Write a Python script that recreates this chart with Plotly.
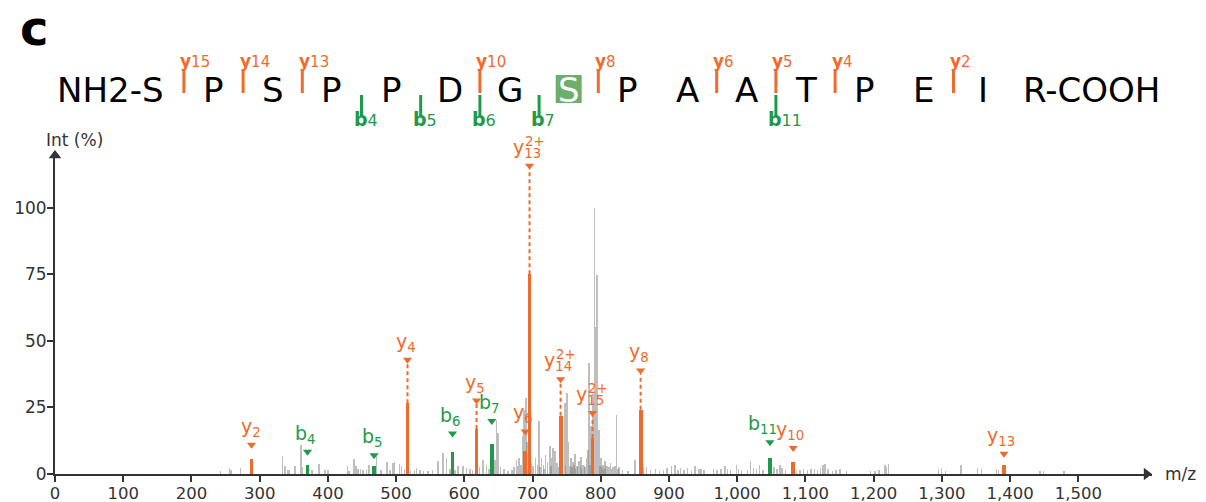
import plotly.graph_objects as go

# ---------------- data ----------------
residues = ["S", "P", "S", "P", "P", "D", "G", "S", "P", "A", "A", "T", "P", "E", "I", "R"]
phospho_site = 8
y_ions_seq = [15, 14, 13, 10, 8, 6, 5, 4, 2]
b_ions_seq = [4, 5, 6, 7, 11]

ion_type = ["y", "b", "b", "y", "b", "y", "b", "y", "y", "y", "y", "y", "b", "y", "y"]
ion_num = [2, 4, 5, 4, 6, 5, 7, 6, 13, 14, 15, 8, 11, 10, 13]
ion_charge = [1, 1, 1, 1, 1, 1, 1, 1, 2, 2, 2, 1, 1, 1, 1]
ion_mz = [288.0, 370.1, 467.7, 516.7, 582.7, 617.9, 640.3, 689.2, 695.6, 741.1, 788.0, 858.4, 1048.0, 1082.1, 1391.0]
ion_int = [5.7, 3.5, 3.0, 26.6, 8.2, 16.9, 11.4, 8.8, 75.1, 21.9, 13.5, 24.1, 6.1, 4.6, 3.5]

gray_mz = [242.5, 256, 258, 271.8, 333.4, 336.8, 341.7, 344, 351.5, 360.3, 363, 376.9, 387, 395.4, 400.3,
           428.7, 431, 438.4, 441, 444.3, 447.8, 451.7, 456.6, 460, 471.2, 478, 486.8, 490.8, 495.6, 498,
           505, 508, 512, 521, 527, 530, 535, 540, 547, 553, 561.6, 568.9, 573.8, 579, 586, 590.9, 598.2,
           603, 608, 612, 622, 627.6, 632.6, 636, 644.7, 647.2, 649.6, 653, 658, 664, 670, 673, 676.5, 678,
           680.4, 683, 685.3, 687.7, 690.2, 692, 694, 696, 698.5, 701, 704, 707, 709.7, 711, 713.2, 716, 717,
           719, 722, 725.4, 727, 728, 730.3, 733, 736, 738, 741, 744, 747.4, 748, 750.7, 753, 755, 756, 758,
           759, 761, 762, 763, 765, 766, 768, 770, 771, 772, 774, 776, 777, 779.2, 781, 783, 784, 786, 788.9,
           790.5, 792.5, 794.8, 797.7, 799, 800, 802, 803, 805, 806, 808, 810, 812, 814, 816, 818, 821,
           823.2, 825, 827, 832, 840, 850, 862, 867, 873, 880, 886, 892, 897, 903.8, 908.7, 913, 917, 922,
           927, 933, 938, 944, 947, 951, 965, 970, 976, 982, 986, 990, 999, 1002, 1006, 1015, 1019.6, 1024,
           1028, 1033, 1038, 1054, 1058, 1062.8, 1066, 1071, 1087, 1092, 1097, 1103, 1108, 1113, 1118, 1122,
           1125.7, 1128.6, 1133, 1140, 1145, 1151, 1160, 1195, 1202, 1208, 1216.5, 1219, 1221.4, 1294.7,
           1299.7, 1305, 1328, 1352, 1358.4, 1380, 1383, 1444, 1449, 1479]
gray_int = [1.2, 2.2, 1.5, 2.2, 6.9, 2.9, 1.6, 1.4, 3.1, 11.0, 2.5, 1.6, 3.9, 1.6, 1.6,
            2.9, 1.2, 5.7, 2.9, 1.9, 1.9, 1.6, 1.6, 3.5, 7.2, 1.5, 4.4, 1.6, 4.1, 4.4,
            3.8, 2.9, 1.8, 1.2, 1.5, 2.3, 1.6, 1.3, 1.1, 1.4, 4.8, 7.9, 6.0, 2.0, 1.5, 2.9, 2.9,
            2.2, 1.9, 1.4, 2.5, 5.4, 3.5, 1.8, 5.4, 20.4, 15.4, 2.5, 1.8, 1.1, 1.5, 2.5, 5.4, 3.0,
            6.0, 3.5, 14.1, 24.1, 28.5, 12.0, 3.5, 2.5, 4.1, 2.9, 6.0, 3.5, 20.1, 2.5, 6.0, 3.2, 2.0,
            7.0, 4.5, 10.4, 3.0, 6.0, 9.8, 8.5, 4.0, 2.5, 3.0, 16.6, 26.6, 3.5, 30.4, 12.0, 3.0, 6.0, 2.5,
            4.5, 3.5, 7.5, 2.0, 3.0, 2.5, 5.0, 3.0, 6.5, 2.0, 3.2, 3.0, 2.5, 6.0, 9.0, 41.6, 3.5, 18.0, 30.0,
            100.0, 55.4, 74.8, 16.6, 3.0, 6.0, 2.5, 3.5, 2.0, 5.0, 3.0, 3.0, 2.5, 4.0, 2.0, 2.5, 3.0,
            22.3, 2.0, 2.5, 1.5, 1.2, 5.4, 2.8, 2.5, 1.4, 1.8, 1.2, 1.6, 2.1, 3.0, 3.5, 1.6, 2.2, 1.5,
            2.4, 1.3, 3.0, 1.8, 2.0, 1.5, 2.0, 1.4, 1.7, 3.0, 2.0, 1.4, 3.5, 2.0, 1.6, 1.4, 4.8, 2.4,
            2.0, 3.2, 1.5, 2.5, 1.8, 3.5, 2.2, 1.5, 1.2, 1.5, 1.8, 1.4, 1.8, 2.0, 1.5, 2.2,
            3.5, 3.7, 2.0, 1.3, 1.4, 1.8, 1.0, 1.0, 1.2, 1.4, 3.5, 2.5, 3.8, 2.0,
            2.4, 1.2, 3.2, 2.4, 2.0, 1.9, 1.5, 1.3, 1.0, 1.1]

x_ticks = list(range(0, 1501, 100))
y_ticks = [0, 25, 50, 75, 100]

# label heights for the annotation triangles (layout)
label_level = [11, 8.4, 7, 42.9, 15.2, 27.6, 19.9, 16, 115.8, 35.6, 22.9, 38.9, 11.9, 9.8, 7.6]
label_xshift = [0, -2, -2, -2, -2, -2, -2, -2, -3, -3, -3, -2, -7, -3, -3]

# ---------------- style ----------------
ORANGE = "#EF6B2B"
GREEN = "#1F9A48"
BOX_GREEN = "#6DAE6B"
AXIS = "#333333"
FONT = "DejaVu Sans"
OFF = 8  # page body margin: the figure starts 8 px right/down in the window
W_FIG, H_FIG = 1206 - OFF, 502 - OFF
ML, MR, MT, MB = 47, 54, 144, 28
PW = W_FIG - ML - MR
PH = H_FIG - MT - MB
X_MAX = 1608
Y_MAX = 121


def px_x(px):  # window pixel -> paper
    return (px - OFF - ML) / PW


def px_y(py):
    return (H_FIG - MB - (py - OFF)) / PH


fig = go.Figure()

# gray background peaks
fig.add_trace(go.Bar(x=gray_mz, y=gray_int, width=[2.2] * len(gray_mz),
                     marker=dict(color="rgba(125,125,125,0.5)", line=dict(width=0)),
                     hoverinfo="skip", showlegend=False))

colors = [ORANGE if t == "y" else GREEN for t in ion_type]
fig.add_trace(go.Bar(x=ion_mz, y=ion_int, width=[5.6] * len(ion_mz),
                     marker=dict(color=colors, line=dict(width=0)),
                     hoverinfo="skip", showlegend=False))

annotations = []
# leaders, triangles, labels
for i in range(len(ion_mz)):
    c = colors[i]
    lev = label_level[i]
    if lev - ion_int[i] > 9:
        fig.add_trace(go.Scatter(x=[ion_mz[i], ion_mz[i]], y=[ion_int[i], lev - 1.2], mode="lines",
                                 line=dict(color=c, width=2, dash="4px,3px"),
                                 hoverinfo="skip", showlegend=False))
    annotations.append(dict(x=ion_mz[i], y=lev, xref="x", yref="y", showarrow=False,
                            text=f"{ion_type[i]}<sub>{ion_num[i]}</sub>",
                            xanchor="center", yanchor="bottom", yshift=3, xshift=label_xshift[i],
                            font=dict(family=FONT, size=19, color=c)))
    if ion_charge[i] > 1:
        nd = len(str(ion_num[i]))
        width = 0.592 * 19 + nd * 0.636 * 13.3
        sub_start = -width / 2 + 0.592 * 19 + label_xshift[i]
        annotations.append(dict(x=ion_mz[i], y=lev, xref="x", yref="y", showarrow=False,
                                text=f"{ion_charge[i]}+", xanchor="left", yanchor="bottom",
                                xshift=sub_start - 1, yshift=15,
                                font=dict(family=FONT, size=13.3, color=c)))

fig.add_trace(go.Scatter(x=ion_mz, y=label_level, mode="markers",
                         marker=dict(symbol="triangle-down", size=8, color=colors, line=dict(width=0)),
                         hoverinfo="skip", showlegend=False, cliponaxis=False))

# axis arrows
fig.add_trace(go.Scatter(x=[0], y=[Y_MAX - 1.3], mode="markers",
                         marker=dict(symbol="triangle-up", size=11, color=AXIS, line=dict(width=0)),
                         hoverinfo="skip", showlegend=False, cliponaxis=False))
fig.add_trace(go.Scatter(x=[X_MAX - 8], y=[0], mode="markers",
                         marker=dict(symbol="triangle-right", size=11, color=AXIS, line=dict(width=0)),
                         hoverinfo="skip", showlegend=False, cliponaxis=False))

# ---------------- peptide sequence ----------------
SEQ_C2 = 213.5
SEQ_STEP = 59.2


def res_center(i):  # 1-based residue index
    return SEQ_C2 + (i - 2) * SEQ_STEP


def cut_x(k):  # cleavage after residue k
    return res_center(k) + SEQ_STEP / 2


shapes = []
n_res = len(residues)
for i, r in enumerate(residues, start=1):
    if i == 1:
        annotations.append(dict(x=px_x(res_center(i) + 11), y=px_y(90), xref="paper", yref="paper",
                                text="NH2-" + r, showarrow=False, xanchor="right", yanchor="middle",
                                font=dict(family=FONT, size=34, color="black")))
    elif i == n_res:
        annotations.append(dict(x=px_x(cut_x(i - 1) + 8), y=px_y(90), xref="paper", yref="paper",
                                text=r + "-COOH", showarrow=False, xanchor="left", yanchor="middle",
                                font=dict(family=FONT, size=34, color="black")))
    else:
        if i == phospho_site:
            shapes.append(dict(type="rect", xref="paper", yref="paper",
                               x0=px_x(res_center(i) - 13), x1=px_x(res_center(i) + 13),
                               y0=px_y(103), y1=px_y(75), fillcolor=BOX_GREEN, line=dict(width=0)))
        annotations.append(dict(x=px_x(res_center(i)), y=px_y(90), xref="paper", yref="paper",
                                text=r, showarrow=False, xanchor="center", yanchor="middle",
                                font=dict(family=FONT, size=34,
                                          color="white" if i == phospho_site else "black")))

for n in y_ions_seq:
    k = n_res - n
    x = px_x(cut_x(k))
    shapes.append(dict(type="line", xref="paper", yref="paper", x0=x, x1=x, y0=px_y(93), y1=px_y(70),
                       line=dict(color=ORANGE, width=3)))
    annotations.append(dict(x=x, y=px_y(73), xref="paper", yref="paper", showarrow=False,
                            text=f"<b>y</b><span style='font-size:15px'>{n}</span>",
                            xanchor="left", yanchor="bottom", xshift=-5.5,
                            font=dict(family=FONT, size=17, color=ORANGE)))
for n in b_ions_seq:
    x = px_x(cut_x(n))
    shapes.append(dict(type="line", xref="paper", yref="paper", x0=x, x1=x, y0=px_y(117), y1=px_y(95),
                       line=dict(color=GREEN, width=3)))
    annotations.append(dict(x=x, y=px_y(132), xref="paper", yref="paper", showarrow=False,
                            text=f"<b>b</b><span style='font-size:16px'>{n}</span>",
                            xanchor="left", yanchor="bottom", xshift=-10,
                            font=dict(family=FONT, size=19, color=GREEN)))

# panel letter and axis titles
annotations.append(dict(x=px_x(18), y=px_y(58.3), xref="paper", yref="paper", showarrow=False,
                        text="<b>c</b>", xanchor="left", yanchor="bottom",
                        font=dict(family="DejaVu Sans", size=48, color="black")))
annotations.append(dict(x=px_x(44), y=px_y(152), xref="paper", yref="paper", showarrow=False,
                        text="Int (%)", xanchor="left", yanchor="bottom",
                        font=dict(family=FONT, size=17, color=AXIS)))
annotations.append(dict(x=px_x(1163), y=px_y(474), xref="paper", yref="paper", showarrow=False,
                        text="m/z", xanchor="left", yanchor="middle",
                        font=dict(family=FONT, size=17, color=AXIS)))

fig.update_layout(
    width=W_FIG, height=H_FIG,
    margin=dict(l=ML, r=MR, t=MT, b=MB, autoexpand=False),
    paper_bgcolor="white", plot_bgcolor="white",
    barmode="overlay", bargap=0,
    showlegend=False, separators=".,",
    annotations=annotations, shapes=shapes,
    font=dict(family=FONT, size=17, color=AXIS),
    xaxis=dict(range=[0, X_MAX], tickvals=x_ticks, tickformat=",d", showgrid=False, zeroline=False,
               automargin=False, ticklabelstandoff=-3,
               showline=True, linecolor=AXIS, linewidth=2, ticks="outside", ticklen=6, tickwidth=1.5,
               tickcolor=AXIS, tickfont=dict(family=FONT, size=16.5, color=AXIS)),
    yaxis=dict(range=[0, Y_MAX], tickvals=y_ticks, showgrid=False, zeroline=False,
               automargin=False, ticklabelstandoff=-3,
               showline=True, linecolor=AXIS, linewidth=2, ticks="outside", ticklen=6, tickwidth=1.5,
               tickcolor=AXIS, tickfont=dict(family=FONT, size=17, color=AXIS)),
)

fig.write_html("out.html")
